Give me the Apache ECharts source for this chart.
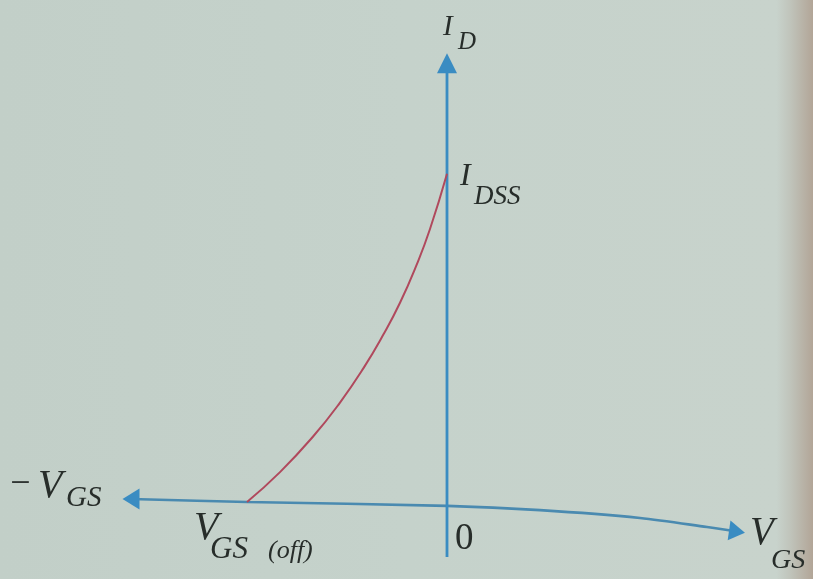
<!DOCTYPE html>
<html>
<head>
<meta charset="utf-8">
<style>
  html, body { margin: 0; padding: 0; }
  #chart { width: 813px; height: 579px; }
</style>
<script src="https://cdn.jsdelivr.net/npm/echarts@6/dist/echarts.min.js"></script>
</head>
<body>
<div id="chart"></div>
<script>
// JFET transfer characteristic: drain current vs gate-source voltage
// (V_GS in volts, I_D in mA; pinch-off at -4 V, I_DSS = 10 mA)
const vgs = [-4, -3.34, -2.67, -2.14, -1.67, -1.27, -0.94, -0.61, -0.34, 0];
const idrain = [0, 0.92, 2.03, 3.06, 4.12, 5.16, 6.13, 7.29, 8.4, 10.1];

// hand-drawn V_GS axis (sags slightly to the right), ends carry arrowheads
const hAxisX = [-6.32, -4, 0, 1.86, 3.86, 5.2, 5.8];
const hAxisY = [0.09, 0, -0.12, -0.25, -0.49, -0.77, -0.91];

// I_D axis runs along V_GS = 0
const vAxisX = [0, 0];
const vAxisY = [-1.69, 13.5];

const AXIS_BLUE = '#3a8cc2';
const INK = '#272d2a';
const SERIF = '"Liberation Serif", "DejaVu Serif", serif';

function axisPath(xs, ys, arrows) {
  return xs.map((x, i) => {
    const a = arrows[i];
    if (!a) return { value: [x, ys[i]], symbol: 'none' };
    return { value: [x, ys[i]], symbol: 'triangle', symbolSize: a.size, symbolRotate: a.rot };
  });
}

const chart = echarts.init(document.getElementById('chart'), null, { renderer: 'canvas' });

function txt(text, x, y, size, italic) {
  return {
    type: 'text', x: x, y: y, silent: true,
    style: {
      text: text, fill: INK,
      font: (italic === false ? '' : 'italic ') + size + 'px ' + SERIF,
      verticalAlign: 'top', align: 'left'
    }
  };
}

chart.setOption({
  animation: false,
  backgroundColor: {
    type: 'linear', x: 0, y: 0, x2: 1, y2: 0,
    colorStops: [
      { offset: 0, color: '#c2cfc8' },
      { offset: 0.5, color: '#c5d2cb' },
      { offset: 0.955, color: '#c8d3cc' },
      { offset: 0.972, color: '#c0c4bb' },
      { offset: 1, color: '#b2a597' }
    ]
  },
  grid: { left: 47, right: 16, top: 14.5, bottom: 12 },
  xAxis: {
    type: 'value', min: -8, max: 7,
    axisLine: { show: false }, axisTick: { show: false },
    axisLabel: { show: false }, splitLine: { show: false }
  },
  yAxis: {
    type: 'value', min: -2, max: 15,
    axisLine: { show: false }, axisTick: { show: false },
    axisLabel: { show: false }, splitLine: { show: false }
  },
  series: [
    {
      type: 'line', silent: true, smooth: 0.3, showSymbol: true, symbol: 'none',
      lineStyle: { color: '#4a8ab0', width: 2.6 },
      itemStyle: { color: AXIS_BLUE },
      data: axisPath(hAxisX, hAxisY, {
        0: { size: [21, 17], rot: 90 },
        6: { size: [20, 16], rot: -98 }
      }),
      z: 2
    },
    {
      type: 'line', silent: true, showSymbol: true, symbol: 'none',
      lineStyle: { color: AXIS_BLUE, width: 2.8 },
      itemStyle: { color: AXIS_BLUE },
      data: axisPath(vAxisX, vAxisY, { 1: { size: [20, 20], rot: 0 } }),
      z: 2
    },
    {
      type: 'line', silent: true, smooth: 0.5, symbol: 'none',
      lineStyle: { color: '#b0495d', width: 2 },
      data: vgs.map((v, i) => [v, idrain[i]]),
      z: 3
    }
  ],
  graphic: [
    txt('I', 443, 13, 29),
    txt('D', 458, 30, 25),
    txt('I', 460, 161, 32),
    txt('DSS', 474, 183, 27),
    txt('\u2212', 8, 467, 36),
    txt('V', 38, 466, 40),
    txt('GS', 66, 484, 29),
    txt('V', 194, 508, 40),
    txt('GS', 210, 534, 31),
    txt('(off)', 268, 538, 26),
    txt('0', 455, 521, 37, false),
    txt('V', 750, 514, 39),
    txt('GS', 771, 547, 28)
  ]
});
</script>
</body>
</html>
